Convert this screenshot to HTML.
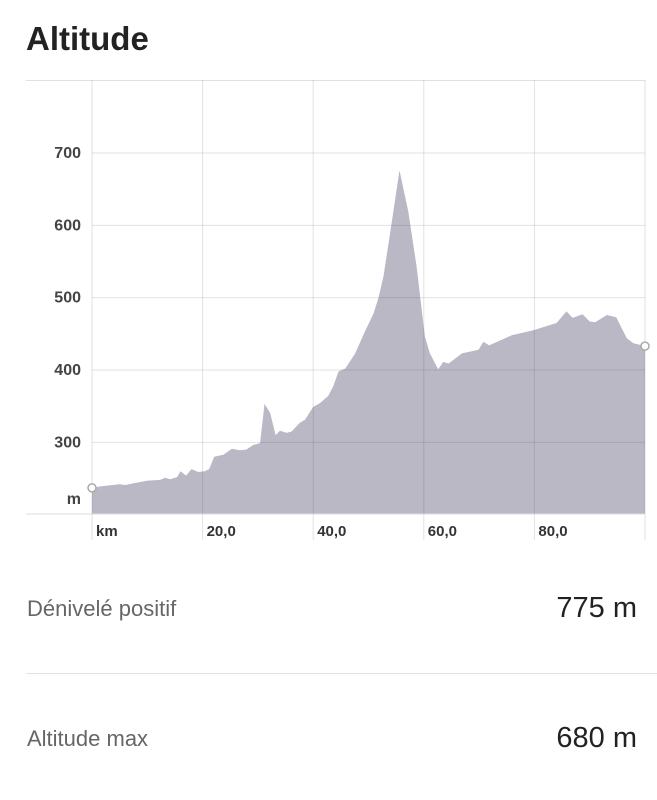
<!DOCTYPE html>
<html><head><meta charset="utf-8"><style>
body{margin:0;width:657px;height:800px;background:#fff;font-family:"Liberation Sans",sans-serif;overflow:hidden;position:relative}
.t{position:absolute;left:26px;top:20px;font-size:33px;font-weight:bold;color:#222;margin:0}
.lbl{position:absolute;left:27px;font-size:22px;color:#666}
.val{position:absolute;right:20px;font-size:29px;color:#222}
.div{position:absolute;left:26px;right:0;top:673px;height:1px;background:#e2e2e2}
</style></head><body>
<h1 class="t">Altitude</h1>
<svg id="chart" width="657" height="560" style="position:absolute;left:0;top:0"></svg>
<div class="lbl" style="top:596px">Dénivelé positif</div>
<div class="val" style="top:592px">775 m</div>
<div class="div"></div>
<div class="lbl" style="top:726px">Altitude max</div>
<div class="val" style="top:722px">680 m</div>
<script>
const km=[0,1.5,5,6,9.9,12.3,13.2,14.2,15.4,16,17,18,19.2,20.4,21.2,22.1,23.8,25.3,26.7,27.9,29.1,30.4,31.2,32.2,33.2,34,35.2,36.1,37.6,38.5,40,41.2,42.7,43.6,44.6,45.8,47.6,49.4,50.9,51.8,52.7,53.9,55.6,57.2,58.7,60.2,61.1,62.6,63.5,64.5,66.9,69.9,70.8,71.8,75.9,79.8,84,85.8,86.9,88.7,90,91,93.1,94.8,96.7,97.9,100];
const alt=[237,239,242,241,247,248,251,249,252,260,254,263,259,260,263,280,283,291,289,290,296,299,353,341,310,316,313,315,327,331,349,354,364,377,398,402,423,454,478,500,529,589,676,619,543,446,423,401,411,409,423,428,439,434,448,455,465,481,472,477,467,466,476,473,444,437,433];
const yTicks=[300,400,500,600,700];
const xTicks=[20,40,60,80];
const xTickLabels=["20,0","40,0","60,0","80,0"];
const NS="http://www.w3.org/2000/svg";
const svg=document.getElementById('chart');
const X=k=>92+(k/100)*553, Y=v=>153+(700-v)*0.7233, BASE=514;
function mk(t,a){const e=document.createElementNS(NS,t);for(const k in a)e.setAttribute(k,a[k]);svg.appendChild(e);return e;}
let d=`M${X(km[0])},${BASE}`;km.forEach((k,i)=>d+=`L${X(k).toFixed(1)},${Y(alt[i]).toFixed(1)}`);d+=`L${X(km[km.length-1])},${BASE}Z`;
const area=mk('path',{d,fill:'#b9b8c4'});


const topBorder=mk('line',{x1:26,x2:645,y1:80.5,y2:80.5,stroke:'#e0e0e4'});


yTicks.forEach(v=>{
 const l=mk('line',{x1:92,x2:645,y1:Y(v),y2:Y(v),stroke:'rgba(60,60,80,0.15)'});
 
 
 const t=mk('text',{x:81,y:Y(v)+5,'text-anchor':'end','font-size':16,'font-weight':'bold',fill:'#444'});t.textContent=v;
 
 
});
const mu=mk('text',{x:81,y:504,'text-anchor':'end','font-size':16,'font-weight':'bold',fill:'#444'});mu.textContent='m';


[0,...xTicks,100].forEach(k=>{
 const l=mk('line',{x1:X(k),x2:X(k),y1:80,y2:540,stroke:'rgba(60,60,80,0.15)'});
 
 
});
const base=mk('line',{x1:26,x2:645,y1:BASE,y2:BASE,stroke:'#dcdce0'});


const ku=mk('text',{x:X(0)+4,y:536,'font-size':15,'font-weight':'bold',fill:'#333'});ku.textContent='km';


xTicks.forEach((k,i)=>{
 const t=mk('text',{x:X(k)+4,y:536,'font-size':15,'font-weight':'bold',fill:'#333'});t.textContent=xTickLabels[i];
 
 
});
[0,km.length-1].forEach(i=>{
 const c=mk('circle',{cx:X(km[i]),cy:Y(alt[i]),r:4,fill:'#fff',stroke:'#aaa','stroke-width':1.5});
 
 
});
</script>
</body></html>
